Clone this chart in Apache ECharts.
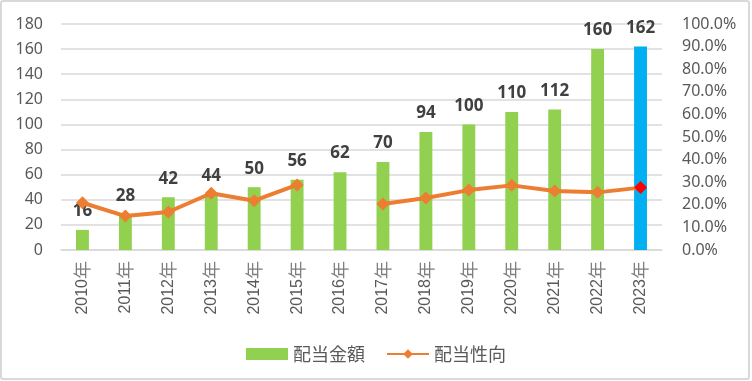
<!DOCTYPE html>
<html><head><meta charset="utf-8">
<script src="https://cdn.jsdelivr.net/npm/echarts@6/dist/echarts.min.js"></script>
<style>
html,body{margin:0;padding:0;background:#fff;}
#wrap{position:absolute;left:0;top:0;width:746px;height:376px;border:2px solid #d9d9d9;border-radius:3px;}
#c{position:absolute;left:0;top:0;width:752px;height:381px;}
</style></head>
<body>
<div id="c"></div>
<div id="wrap" style="pointer-events:none"></div>
<script>
const categories = ['2010年','2011年','2012年','2013年','2014年','2015年','2016年','2017年','2018年','2019年','2020年','2021年','2022年','2023年'];
const dividendAmount = [16,28,42,44,50,56,62,70,94,100,110,112,160,162];
const payoutRatio = [0.209,0.150,0.168,0.251,0.218,0.288,null,0.204,0.230,0.265,0.286,0.261,0.255,0.276];
const leftTicks = {min:0,max:180,interval:20};
const rightTicks = {min:0,max:1,interval:0.1};

const FONT = '"Noto Sans","Noto Sans CJK JP",sans-serif';
const chart = echarts.init(document.getElementById('c'));
const last = categories.length - 1;
chart.setOption({
  animation:false,
  textStyle:{fontFamily:FONT},
  grid:{left:61,right:90,top:24,bottom:131,containLabel:false},
  legend:{
    top:340,left:'center',itemGap:21,
    textStyle:{color:'#595959',fontSize:18,fontFamily:'"Noto Sans CJK JP",sans-serif'},
    data:[{name:'配当金額',icon:'rect',itemStyle:{color:'#92D050'}},{name:'配当性向'}],
    itemWidth:42,itemHeight:12
  },
  xAxis:{
    type:'category',data:categories,
    axisLine:{lineStyle:{color:'#d9d9d9',width:1.5}},
    axisTick:{show:false},
    axisLabel:{
      rotate:90,color:'#595959',margin:11,
      formatter:v=>'{d|'+v.replace('年','')+'}{n|年}',
      rich:{
        d:{fontSize:16,color:'#595959',fontFamily:'"Liberation Sans",Arial,sans-serif'},
        n:{fontSize:18,color:'#7f7f7f',fontFamily:'"Noto Sans CJK JP",sans-serif'}
      }
    }
  },
  yAxis:[{
    type:'value',min:leftTicks.min,max:leftTicks.max,interval:leftTicks.interval,
    axisLine:{show:false},axisTick:{show:false},
    splitLine:{lineStyle:{color:'#d9d9d9',width:1.5}},
    axisLabel:{color:'#595959',fontSize:16,margin:18,fontFamily:FONT}
  },{
    type:'value',min:rightTicks.min,max:rightTicks.max,interval:rightTicks.interval,
    axisLine:{show:false},axisTick:{show:false},splitLine:{show:false},
    axisLabel:{color:'#595959',fontSize:16,margin:20,fontFamily:FONT,formatter:v=>(v*100).toFixed(1)+'%'}
  }],
  series:[{
    name:'配当金額',type:'bar',barWidth:'30%',
    data:dividendAmount.map((v,i)=>i===last?{value:v,itemStyle:{color:'#00B0F0'}}:v),
    itemStyle:{color:'#92D050'},
    label:{show:true,position:'top',distance:10,color:'#404040',fontWeight:'bold',fontSize:17,fontFamily:FONT}
  },{
    name:'配当性向',type:'line',yAxisIndex:1,connectNulls:false,
    data:payoutRatio.map((v,i)=>i===last?{value:v,itemStyle:{color:'#FF0000'}}:v),
    lineStyle:{color:'#ED7D31',width:4},
    itemStyle:{color:'#ED7D31'},
    symbol:'diamond',symbolSize:13,showSymbol:true,
    z:5
  }]
});
</script>
</body></html>
